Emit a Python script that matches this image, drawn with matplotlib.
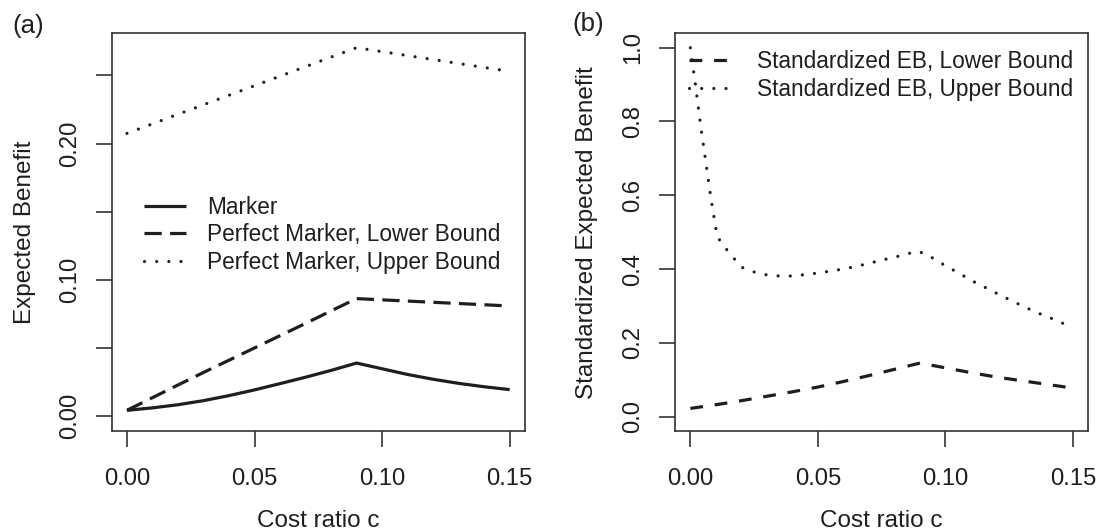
import numpy as np
import matplotlib
matplotlib.use("Agg")
import matplotlib.pyplot as plt
from matplotlib.lines import Line2D

plt.rcParams['font.family'] = ['Liberation Sans', 'DejaVu Sans']

# panel (a): expected benefit
c_a = [0.00, 0.01, 0.02, 0.03, 0.04, 0.05, 0.06, 0.07, 0.08, 0.09,
       0.10, 0.11, 0.12, 0.13, 0.14, 0.15]
eb_marker = [0.0042, 0.0060, 0.0083, 0.0113, 0.0150, 0.0192, 0.0238, 0.0285,
             0.0335, 0.0389, 0.0347, 0.0305, 0.0270, 0.0240, 0.0215, 0.0194]
eb_lower = [0.0042, 0.0135, 0.0228, 0.0320, 0.0410, 0.0500, 0.0590, 0.0680,
            0.0772, 0.0862, 0.0853, 0.0844, 0.0835, 0.0826, 0.0817, 0.0808]
eb_upper = [0.2075, 0.2145, 0.2215, 0.2285, 0.2355, 0.2425, 0.2495, 0.2565,
            0.2635, 0.2704, 0.2675, 0.2646, 0.2617, 0.2588, 0.2559, 0.2530]

# panel (b): standardized expected benefit
c_b_low = [0.000, 0.010, 0.020, 0.030, 0.040, 0.050, 0.060, 0.070, 0.080,
           0.090, 0.100, 0.110, 0.120, 0.130, 0.140, 0.148]
seb_lower = [0.022, 0.032, 0.043, 0.055, 0.067, 0.080, 0.095, 0.111, 0.128,
             0.145, 0.132, 0.119, 0.107, 0.097, 0.087, 0.079]
c_b_up = [0.000, 0.002, 0.004, 0.006, 0.008, 0.0105, 0.0134, 0.0166, 0.020,
          0.025, 0.030, 0.035, 0.040, 0.045, 0.050, 0.055, 0.060, 0.065,
          0.070, 0.075, 0.080, 0.085, 0.089, 0.0924, 0.0967, 0.1009, 0.1053,
          0.1098, 0.1142, 0.1185, 0.123, 0.1275, 0.132, 0.1365, 0.1413,
          0.146, 0.148]
seb_upper = [1.000, 0.899, 0.790, 0.693, 0.595, 0.488, 0.460, 0.433, 0.405,
             0.392, 0.384, 0.381, 0.381, 0.385, 0.389, 0.3945, 0.400, 0.407,
             0.4155, 0.424, 0.432, 0.441, 0.448, 0.4406, 0.4225, 0.405, 0.389,
             0.370, 0.355, 0.3395, 0.324, 0.3086, 0.294, 0.280, 0.267,
             0.2527, 0.248]

ink = '#1e1e1e'
frame = '#333333'
lw = 2.3
dash_a = (0, (5.4, 2.6))
dash_b = (0, (4.0, 3.7))
dot = (0, (0.01, 3.8))
leg_fs = 16.3
lab_fs = 17.5

fig = plt.figure(figsize=(10.98, 5.32), dpi=100)
ax1 = fig.add_axes([0.1017, 0.1893, 0.3764, 0.7487])
ax2 = fig.add_axes([0.6148, 0.1893, 0.3764, 0.7487])


def style(ax):
    for s in ax.spines.values():
        s.set_color(frame)
        s.set_linewidth(1.2)
    ax.tick_params(direction='out', length=11.3, width=1.2, color=frame,
                   labelsize=17.2, labelcolor=ink)
    ax.tick_params(axis='x', pad=15)
    ax.tick_params(axis='y', pad=11)
    for t in ax.get_yticklabels():
        t.set_rotation(90)
        t.set_va('center')


# (a)
ax1.plot(c_a, eb_marker, color=ink, lw=lw, solid_capstyle='butt')
ax1.plot(c_a, eb_lower, color=ink, lw=lw, linestyle=dash_a, dash_capstyle='butt')
ax1.plot(c_a, eb_upper, color=ink, lw=lw, linestyle=dot, dash_capstyle='round')
ax1.set_xlim(-0.006, 0.156)
ax1.set_ylim(-0.0112, 0.2812)
ax1.set_xticks([0.00, 0.05, 0.10, 0.15])
ax1.set_xticklabels(['0.00', '0.05', '0.10', '0.15'])
ax1.set_yticks([0.00, 0.05, 0.10, 0.15, 0.20, 0.25])
ax1.set_yticklabels(['0.00', '', '0.10', '', '0.20', ''])
style(ax1)
ax1.set_xlabel('Cost ratio c', fontsize=lab_fs, color=ink)
ax1.set_ylabel('Expected Benefit', fontsize=lab_fs, color=ink)
ax1.xaxis.set_label_coords(0.5, -0.197)
ax1.yaxis.set_label_coords(-0.183, 0.5)

h_a = [Line2D([], [], color=ink, lw=lw, solid_capstyle='butt'),
       Line2D([], [], color=ink, lw=lw, linestyle=dash_a, dash_capstyle='butt'),
       Line2D([], [], color=ink, lw=lw, linestyle=dot, dash_capstyle='round')]
ax1.legend(h_a, ['Marker', 'Perfect Marker, Lower Bound', 'Perfect Marker, Upper Bound'],
           loc='upper left', bbox_to_anchor=(0.078, 0.591), frameon=False,
           fontsize=leg_fs, handlelength=1.86, handletextpad=0.93, labelspacing=0.2,
           borderpad=0, borderaxespad=0, labelcolor=ink)

# (b)
ax2.plot(c_b_low, seb_lower, color=ink, lw=lw, linestyle=dash_b, dash_capstyle='butt')
ax2.plot(c_b_up, seb_upper, color=ink, lw=lw, linestyle=dot, dash_capstyle='round')
ax2.set_xlim(-0.006, 0.156)
ax2.set_ylim(-0.04, 1.04)
ax2.set_xticks([0.00, 0.05, 0.10, 0.15])
ax2.set_xticklabels(['0.00', '0.05', '0.10', '0.15'])
ax2.set_yticks([0.0, 0.2, 0.4, 0.6, 0.8, 1.0])
ax2.set_yticklabels(['0.0', '0.2', '0.4', '0.6', '0.8', '1.0'])
style(ax2)
ax2.set_xlabel('Cost ratio c', fontsize=lab_fs, color=ink)
ax2.set_ylabel('Standardized Expected Benefit', fontsize=lab_fs, color=ink)
ax2.xaxis.set_label_coords(0.5, -0.197)
ax2.yaxis.set_label_coords(-0.187, 0.5)

h_b = [Line2D([], [], color=ink, lw=lw, linestyle=dash_b, dash_capstyle='butt'),
       Line2D([], [], color=ink, lw=lw, linestyle=dot, dash_capstyle='round')]
ax2.legend(h_b, ['Standardized EB, Lower Bound', 'Standardized EB, Upper Bound'],
           loc='upper left', bbox_to_anchor=(0.034, 0.957), frameon=False,
           fontsize=leg_fs, handlelength=2.05, handletextpad=0.96, labelspacing=0.2,
           borderpad=0, borderaxespad=0, labelcolor=ink)

fig.text(12 / 1098, 1 - 25.5 / 532, '(a)', fontsize=18.5, color=ink, va='center', ha='left')
fig.text(572 / 1098, 1 - 24 / 532, '(b)', fontsize=18.5, color=ink, va='center', ha='left')

fig.savefig('out.png', dpi=100)
